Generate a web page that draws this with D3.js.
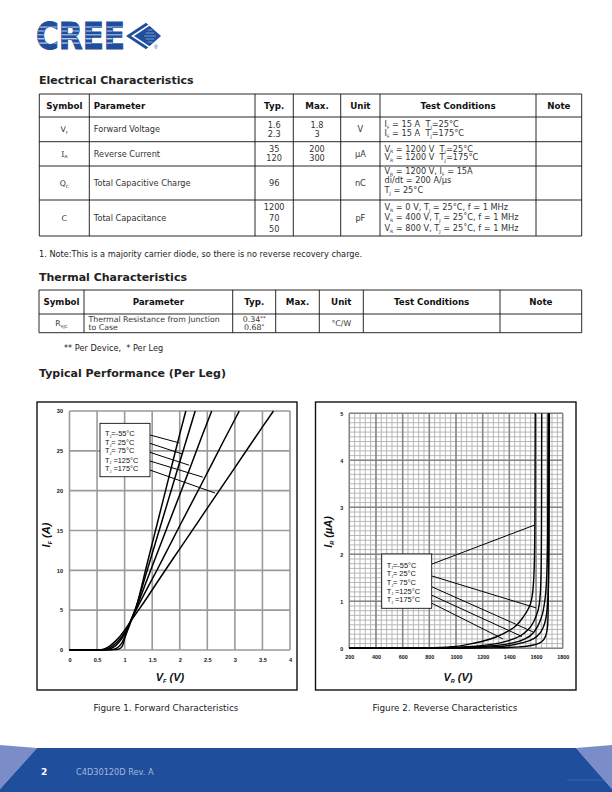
<!DOCTYPE html>
<html><head><meta charset="utf-8">
<script src="https://cdn.jsdelivr.net/npm/d3@7"></script>
<style>body{margin:0;background:#fff}svg{display:block}text{white-space:pre}</style>
</head><body><svg id="page" width="612" height="792"></svg>
<script>
// ---------------- DATA ----------------
// Electrical characteristics table
const elecHeader = ["Symbol","Parameter","Typ.","Max.","Unit","Test Conditions","Note"];
const elecSymbols = ["V_{F}","I_{R}","Q_{C}","C"];
const elecParams = ["Forward Voltage","Reverse Current","Total Capacitive Charge","Total Capacitance"];
const elecTyp = [["1.6","2.3"],["35","120"],["96"],["1200","70","50"]];
const elecMax = [["1.8","3"],["200","300"],[],[]];
const elecUnit = ["V","µA","nC","pF"];
const elecCond = [
  ["I_{F} = 15 A  T_{J}=25°C","I_{F} = 15 A  T_{J}=175°C"],
  ["V_{R} = 1200 V  T_{J}=25°C","V_{R} = 1200 V  T_{J}=175°C"],
  ["V_{R} = 1200 V, I_{F} = 15A","di/dt = 200 A/µs","T_{J} = 25°C"],
  ["V_{R} = 0 V, T_{J} = 25°C, f = 1 MHz","V_{R} = 400 V, T_{J} = 25˚C, f = 1 MHz","V_{R} = 800 V, T_{J} = 25˚C, f = 1 MHz"]
];
const elecNote = "1. Note:This is a majority carrier diode, so there is no reverse recovery charge.";
// Thermal table
const thermHeader = ["Symbol","Parameter","Typ.","Max.","Unit","Test Conditions","Note"];
const thermSymbol = "R_{θJC}";
const thermParam = ["Thermal Resistance from Junction","to Case"];
const thermTyp = ["0.34^{**}","0.68^{*}"];
const thermUnit = "°C/W";
const thermFoot = "** Per Device,  * Per Leg";

// Figure 1: forward characteristics [V_F (V), I_F (A)]
const fwdM55 = [[0,0],[0.6,0],[0.85,0.05],[0.93,0.25],[0.97,0.7],[1.0,1.4],[1.05,2.5],[1.1,3.5],[1.2,5.2],[1.4,10.6],[1.6,16.1],[1.8,21.6],[2.0,27.1],[2.11,30]];
const fwd25  = [[0,0],[0.6,0],[0.78,0.05],[0.88,0.35],[0.95,0.9],[1.0,1.6],[1.1,3.3],[1.2,5.2],[1.4,9.8],[1.6,14.4],[1.8,19.0],[2.0,23.6],[2.28,30]];
const fwd75  = [[0,0],[0.58,0],[0.7,0.08],[0.8,0.35],[0.9,1.0],[1.0,2.0],[1.1,3.5],[1.2,5.1],[1.4,8.7],[1.6,12.3],[1.8,15.9],[2.0,19.5],[2.2,23.1],[2.4,26.8],[2.58,30]];
const fwd125 = [[0,0],[0.55,0],[0.65,0.08],[0.75,0.35],[0.85,0.9],[0.95,1.7],[1.05,2.8],[1.2,4.9],[1.4,7.6],[1.6,10.2],[1.8,12.9],[2.0,15.6],[2.4,20.9],[2.8,26.3],[3.08,30]];
const fwd175 = [[0,0],[0.5,0],[0.6,0.08],[0.7,0.35],[0.8,0.9],[0.9,1.6],[1.0,2.5],[1.1,3.5],[1.2,4.5],[1.4,6.5],[1.6,8.6],[2.0,12.7],[2.5,17.8],[3.0,22.9],[3.5,28.0],[3.7,30]];
const fwdXTicks = [0,0.5,1,1.5,2,2.5,3,3.5,4];
const fwdXLabels = ["0","0.5","1","1.5","2","2.5","3","3.5","4"];
const fwdYTicks = [0,5,10,15,20,25,30];
// leader lines [startV, startI, endV, endI]
const fwdLeaders = [[1.46,26.99,1.99,26.0],[1.46,25.94,2.047,24.6],[1.46,24.81,2.169,23.2],[1.46,23.72,2.417,21.7],[1.46,22.59,2.64,19.7]];

// Figure 2: reverse characteristics [V_R (V), I_R (µA)]
const rev1 = [[200,0],[600,0],[800,0.01],[1000,0.04],[1100,0.09],[1200,0.15],[1300,0.24],[1400,0.38],[1450,0.48],[1500,0.65],[1540,0.83],[1565,1.02],[1580,1.35],[1588,1.9],[1592,3],[1594,5]];
const rev2 = [[200,0],[800,0],[1000,0.02],[1200,0.06],[1300,0.1],[1400,0.17],[1500,0.3],[1560,0.46],[1600,0.68],[1625,0.95],[1636,1.4],[1641,2.5],[1643,5]];
const rev3 = [[200,0],[800,0],[1000,0.01],[1200,0.04],[1400,0.1],[1500,0.18],[1580,0.33],[1630,0.58],[1660,0.9],[1678,1.4],[1687,2.3],[1691,5]];
const rev4 = [[200,0],[900,0],[1200,0.02],[1400,0.06],[1500,0.12],[1600,0.24],[1650,0.42],[1680,0.75],[1693,1.3],[1698,2.3],[1700,5]];
const rev5 = [[200,0],[1000,0],[1300,0.01],[1480,0.03],[1580,0.07],[1642,0.14],[1672,0.26],[1686,0.45],[1691,0.8],[1693,1.6],[1694,5]];
const revXTicks = [200,400,600,800,1000,1200,1400,1600,1800];
const revYTicks = [0,1,2,3,4,5];
const revLeaders = [[817.7,1.79,1587,2.62],[817.7,1.54,1600,0.86],[817.7,1.31,1577,0.35],[817.7,1.13,1495,0.25],[817.7,0.96,1352,0.2]];

const legendLabels = ["T_{J}=-55°C","T_{J}= 25°C","T_{J}= 75°C","T_{J} =125°C","T_{J} =175°C"];
const fig1Caption = "Figure 1. Forward Characteristics";
const fig2Caption = "Figure 2. Reverse Characteristics";

// ---------------- DRAWING ----------------
const svg = d3.select("#page");
const BLUE = "#1f4f9c";
const FONT = "'DejaVu Sans', Verdana, sans-serif";
const ARIAL = "'Liberation Sans', Arial, sans-serif";

function rich(t, str, subScale) {
  subScale = subScale || 0.55;
  const fs = parseFloat(t.attr("font-size"));
  const toks = str.split(/(_\{[^}]*\}|\^\{[^}]*\})/).filter(s => s.length);
  let shift = 0;
  toks.forEach(tok => {
    let c = tok, dy = 0, size = null;
    if (tok.startsWith("_{")) { c = tok.slice(2,-1); size = fs*subScale; dy = fs*0.22; }
    else if (tok.startsWith("^{")) { c = tok.slice(2,-1); size = fs*0.7; dy = -fs*0.3; }
    const ts = t.append("tspan").text(c).attr("dy", dy - shift);
    if (size) ts.attr("font-size", size);
    shift = dy;
  });
  return t;
}
function txt(g, x, y, str, o) {
  o = o || {};
  const t = g.append("text").attr("x", x).attr("y", y)
    .attr("font-family", o.font || FONT).attr("font-size", o.size || 8.2)
    .attr("font-weight", o.weight || "normal").attr("font-style", o.style || "normal")
    .attr("fill", o.fill || "#222").attr("text-anchor", o.anchor || "start");
  return rich(t, str, o.sub);
}

// ---- Logo ----
const logo = svg.append("g");
const defs = svg.append("defs");
defs.append("clipPath").attr("id","creeClip").append("text")
  .attr("x",36).attr("y",49.3).attr("font-family",FONT).attr("font-weight","bold")
  .attr("font-size",36.5).attr("textLength",89).attr("lengthAdjust","spacingAndGlyphs").text("CREE");
logo.append("text").attr("x",36).attr("y",49.3).attr("font-family",FONT).attr("font-weight","bold")
  .attr("font-size",36.5).attr("textLength",89).attr("lengthAdjust","spacingAndGlyphs")
  .attr("fill",BLUE).attr("stroke",BLUE).attr("stroke-width",1).text("CREE");
const stripes = logo.append("g").attr("clip-path","url(#creeClip)");
[[26.3,"#8fa9d6",1.6],[30.3,"#8fa9d6",1.4],[34.2,"#a9bde0",1.2],[38.3,"#ffffff",1],[42.6,"#ffffff",0.9]].forEach(s=>{
  stripes.append("rect").attr("x",34).attr("y",s[0]).attr("width",95).attr("height",s[2]).attr("fill",s[1]);
});
logo.append("polygon").attr("points","126,36 146,22.7 161,36 146,49.3").attr("fill",BLUE);
logo.append("polyline").attr("points","149.5,24.8 132.5,36 149.5,47.2").attr("fill","none").attr("stroke","#fff").attr("stroke-width",1.6);
[30,33,36,39,42].forEach(y=>{
  const w = 10 - Math.abs(y-36)*1.2;
  logo.append("line").attr("x1",146-w/2+3).attr("x2",146+w/2+5).attr("y1",y).attr("y2",y).attr("stroke","#9fb6df").attr("stroke-width",0.7);
});
logo.append("text").attr("x",154).attr("y",49).attr("font-size",5).attr("font-family",ARIAL).attr("fill",BLUE).text("®");

// ---- Titles ----
txt(svg, 39, 84, "Electrical Characteristics", {size:11, weight:"bold", fill:"#222"});
txt(svg, 39, 280.5, "Thermal Characteristics", {size:11, weight:"bold", fill:"#222"});
txt(svg, 39, 376.5, "Typical Performance (Per Leg)", {size:11, weight:"bold", fill:"#222"});

// ---- Table helper ----
function drawTable(cols, rows, header, body, opts) {
  const g = svg.append("g");
  cols.forEach(x => g.append("line").attr("x1",x).attr("x2",x).attr("y1",rows[0]).attr("y2",rows[rows.length-1]).attr("stroke","#111").attr("stroke-width",0.9));
  rows.forEach(y => g.append("line").attr("x1",cols[0]).attr("x2",cols[cols.length-1]).attr("y1",y).attr("y2",y).attr("stroke","#111").attr("stroke-width",0.9));
  const hy = (rows[0]+rows[1])/2 + 3;
  header.forEach((h,i) => {
    const al = opts.headerAlign[i];
    const x = al === "start" ? cols[i]+4.5 : (cols[i]+cols[i+1])/2;
    txt(g, x, hy, h, {size:8.7, weight:"bold", anchor:al, fill:"#111"});
  });
  body.forEach((row, r) => {
    const top = rows[r+1], bot = rows[r+2];
    row.forEach((cell, i) => {
      if (!cell) return;
      const lines = cell.lines;
      const lh = cell.lh || 8.6;
      const cy = (top+bot)/2 + (cell.off || 0);
      const al = opts.bodyAlign[i];
      const x = al === "start" ? cols[i]+4.5 : (cols[i]+cols[i+1])/2;
      lines.forEach((ln, k) => {
        const y = cy + (k - (lines.length-1)/2)*lh + 2.9;
        txt(g, x, y, ln, {size: cell.size || 8.2, anchor: al, font: cell.font, fill:"#333"});
      });
    });
  });
}

const elecCols = [39.3, 89.3, 255, 293.3, 340.7, 380, 536, 581.7];
const elecRowsY = [94, 117, 141.7, 166, 200, 236];
const elecLH = [8.6, 8.8, 9.4, 10.6];
const elecBody = elecSymbols.map((s, r) => [
  {lines:[s], font: s.startsWith("I") ? "'DejaVu Serif', serif" : FONT, size:7.8},
  {lines:[elecParams[r]]},
  {lines:elecTyp[r], lh:elecLH[r]},
  elecMax[r].length ? {lines:elecMax[r], lh:elecLH[r]} : null,
  {lines:[elecUnit[r]]},
  {lines:elecCond[r], lh:elecLH[r], off: r===2 ? -2.5 : (r===3 ? -0.5 : -0.8)},
  null
]);
drawTable(elecCols, elecRowsY, elecHeader, elecBody, {
  headerAlign:["middle","start","middle","middle","middle","middle","middle"],
  bodyAlign:["middle","start","middle","middle","middle","start","middle"]
});
txt(svg, 39, 257, elecNote, {size:8.2, fill:"#222"});

const thermCols = [39, 84, 232.7, 275.7, 319.3, 363.3, 500, 581.7];
const thermRowsY = [290, 314, 332.7];
drawTable(thermCols, thermRowsY, thermHeader, [[
  {lines:[thermSymbol], size:7.8},
  {lines:thermParam, lh:8.4, size:7.8},
  {lines:thermTyp, lh:8.4, size:7.9},
  null,
  {lines:[thermUnit], size:7.8},
  null, null
]], {
  headerAlign:["middle","middle","middle","middle","middle","middle","middle"],
  bodyAlign:["middle","start","middle","middle","middle","start","middle"]
});
txt(svg, 64, 351, thermFoot, {size:8.2, fill:"#222"});

// ---- Figure frames ----
svg.append("rect").attr("x",37).attr("y",402).attr("width",260).attr("height",288).attr("fill","none").attr("stroke","#111").attr("stroke-width",1.4);
svg.append("rect").attr("x",315.5).attr("y",402).attr("width",260.5).attr("height",288).attr("fill","none").attr("stroke","#111").attr("stroke-width",1.4);
txt(svg, 166, 711, fig1Caption, {size:8.8, anchor:"middle", fill:"#222"});
txt(svg, 445, 711, fig2Caption, {size:8.8, anchor:"middle", fill:"#222"});

function legend(g, xs, ys, box, textX, textYs) {
  g.append("rect").attr("x", xs(box[0])).attr("y", ys(box[1]))
    .attr("width", xs(box[2]) - xs(box[0])).attr("height", ys(box[3]) - ys(box[1]))
    .attr("fill","#fff").attr("stroke","#111").attr("stroke-width",0.9);
  legendLabels.forEach((l,i) => {
    txt(g, xs(textX), ys(textYs[i]) + 2.6, l, {font:ARIAL, size:7.4, fill:"#111", sub:0.5});
  });
}

// ---- Figure 1 ----
{
  const g = svg.append("g");
  const x = d3.scaleLinear().domain([0,4]).range([69.5,290]);
  const y = d3.scaleLinear().domain([0,30]).range([650,411]);
  const gridC = "#9a9a9a";
  fwdXTicks.forEach(v => g.append("line").attr("x1",x(v)).attr("x2",x(v)).attr("y1",y(0)).attr("y2",y(30)).attr("stroke",gridC).attr("stroke-width",1.6));
  fwdYTicks.forEach(v => g.append("line").attr("x1",x(0)).attr("x2",x(4)).attr("y1",y(v)).attr("y2",y(v)).attr("stroke",gridC).attr("stroke-width",1.6));
  const ax = g.append("g").attr("transform",`translate(0,${y(0)})`)
    .call(d3.axisBottom(x).tickValues(fwdXTicks).tickFormat((d,i)=>fwdXLabels[i]).tickSize(0).tickPadding(8));
  const ay = g.append("g").attr("transform",`translate(${x(0)},0)`)
    .call(d3.axisLeft(y).tickValues(fwdYTicks).tickFormat(d3.format("d")).tickSize(0).tickPadding(6.5));
  [ax, ay].forEach(a => { a.select(".domain").remove(); a.selectAll("text").attr("font-family",ARIAL).attr("font-weight","bold").attr("font-size",5.6).attr("fill","#111"); });
  const line = d3.line().x(d=>x(d[0])).y(d=>y(d[1])).curve(d3.curveMonotoneX);
  [fwdM55, fwd25, fwd75, fwd125, fwd175].forEach(s => g.append("path").attr("d", line(s)).attr("fill","none").attr("stroke","#000").attr("stroke-width",1.5));
  fwdLeaders.forEach(l => g.append("line").attr("x1",x(l[0])).attr("y1",y(l[1])).attr("x2",x(l[2])).attr("y2",y(l[3])).attr("stroke","#000").attr("stroke-width",1));
  legend(g, x, y, [0.553,28.45,1.46,21.75], 0.644, [27.2,26.0,25.0,23.85,22.8]);
  txt(g, 170, 680.5, "V_{F} (V)", {font:ARIAL, size:11, weight:"bold", style:"italic", anchor:"middle", fill:"#111", sub:0.5});
  const t = txt(g, 0, 0, "I_{F} (A)", {font:ARIAL, size:11, weight:"bold", style:"italic", anchor:"middle", fill:"#111", sub:0.5});
  t.attr("transform","translate(50,535) rotate(-90)");
}

// ---- Figure 2 ----
{
  const g = svg.append("g");
  const x = d3.scaleLinear().domain([200,1800]).range([349.3,562.7]);
  const y = d3.scaleLinear().domain([0,5]).range([648.3,413.3]);
  d3.range(200,1801,40).forEach(v => g.append("line").attr("x1",x(v)).attr("x2",x(v)).attr("y1",y(0)).attr("y2",y(5)).attr("stroke","#b0b0b0").attr("stroke-width",0.9));
  d3.range(0,50.5,1).map(v=>v/10).forEach(v => g.append("line").attr("x1",x(200)).attr("x2",x(1800)).attr("y1",y(v)).attr("y2",y(v)).attr("stroke","#b0b0b0").attr("stroke-width",0.9));
  revXTicks.forEach(v => g.append("line").attr("x1",x(v)).attr("x2",x(v)).attr("y1",y(0)).attr("y2",y(5)).attr("stroke","#858585").attr("stroke-width",1.5));
  revYTicks.forEach(v => g.append("line").attr("x1",x(200)).attr("x2",x(1800)).attr("y1",y(v)).attr("y2",y(v)).attr("stroke","#858585").attr("stroke-width",1.5));
  const ax = g.append("g").attr("transform",`translate(0,${y(0)})`)
    .call(d3.axisBottom(x).tickValues(revXTicks).tickFormat(d3.format("d")).tickSize(0).tickPadding(7));
  const ay = g.append("g").attr("transform",`translate(${x(200)},0)`)
    .call(d3.axisLeft(y).tickValues(revYTicks).tickFormat(d3.format("d")).tickSize(0).tickPadding(6));
  [ax, ay].forEach(a => { a.select(".domain").remove(); a.selectAll("text").attr("font-family",ARIAL).attr("font-weight","bold").attr("font-size",5.4).attr("fill","#111"); });
  const line = d3.line().x(d=>x(d[0])).y(d=>y(d[1])).curve(d3.curveMonotoneX);
  [rev1, rev2, rev3, rev4, rev5].forEach(s => g.append("path").attr("d", line(s)).attr("fill","none").attr("stroke","#000").attr("stroke-width",1.4));
  revLeaders.forEach(l => g.append("line").attr("x1",x(l[0])).attr("y1",y(l[1])).attr("x2",x(l[2])).attr("y2",y(l[3])).attr("stroke","#000").attr("stroke-width",1));
  legend(g, x, y, [442.9,2.006,817.7,0.851], 480, [1.77,1.59,1.40,1.22,1.03]);
  txt(g, 458, 680.5, "V_{R} (V)", {font:ARIAL, size:11, weight:"bold", style:"italic", anchor:"middle", fill:"#111", sub:0.5});
  const t = txt(g, 0, 0, "I_{R} (µA)", {font:ARIAL, size:11, weight:"bold", style:"italic", anchor:"middle", fill:"#111", sub:0.5});
  t.attr("transform","translate(332,532) rotate(-90)");
}

// ---- Footer ----
const LIGHT = "#7b8dc9";
svg.append("polygon").attr("points","0,745 37,748 0,789").attr("fill",LIGHT);
svg.append("polygon").attr("points","612,745 576,748 612,789").attr("fill",LIGHT);
svg.append("polygon").attr("points","37,748 576,748 612,789 612,792 0,792 0,789").attr("fill","#1f4f9c");
svg.append("line").attr("x1",567).attr("x2",606).attr("y1",780).attr("y2",780).attr("stroke","#4f6fb3").attr("stroke-width",0.6);
txt(svg, 41, 775, "2", {size:9, weight:"bold", fill:"#ffffff"});
txt(svg, 76, 775, "C4D30120D Rev. A", {size:8.2, fill:"#a3b5dc"});
</script></body></html>
